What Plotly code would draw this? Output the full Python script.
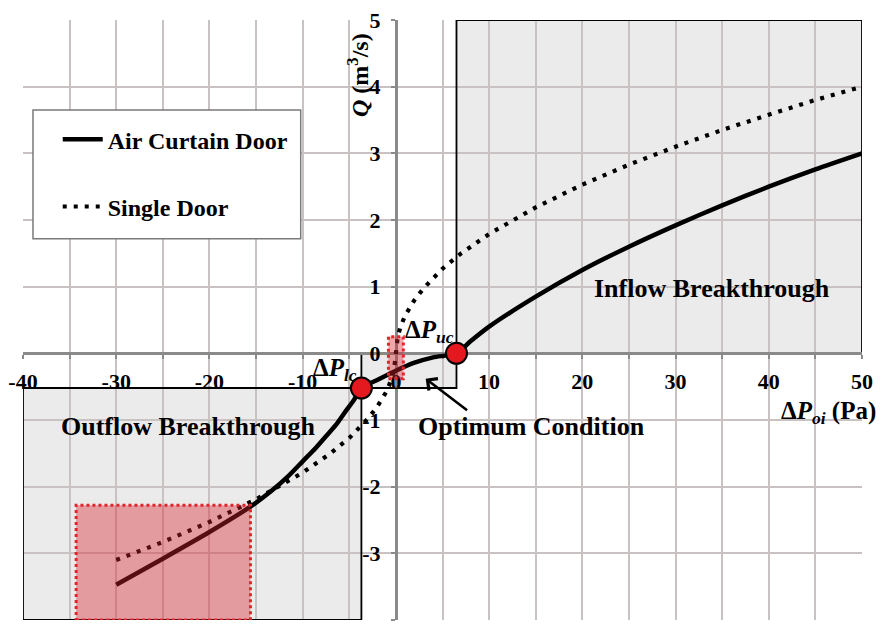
import plotly.graph_objects as go

# Flow rate Q (m3/s) versus pressure difference dP_oi (Pa)
dp_curtain = [-30, -25, -20, -15.6, -13.4, -11.6, -10, -8.6, -7.35, -6.3, -5.4, -4.5, -3.7,
              -2, 0, 2, 4, 6.5, 8, 10, 15, 20, 25, 30, 35, 40, 45, 50]
q_curtain = [-3.47, -3.08, -2.68, -2.30, -2.07, -1.85, -1.62, -1.42, -1.22, -1.05, -0.87, -0.70, -0.52,
             -0.40, -0.26, -0.14, -0.06, 0.0, 0.18, 0.40, 0.85, 1.25, 1.60, 1.92, 2.22, 2.50, 2.76, 3.00]

dp_single = [-30, -25, -20, -15, -10, -7, -5, -3, -2, -1, -0.5, -0.2, 0,
             0.2, 0.5, 1, 2, 3, 5, 7, 10, 15, 20, 25, 30, 35, 40, 45, 50]
q_single = [-3.10, -2.83, -2.53, -2.19, -1.79, -1.50, -1.27, -0.98, -0.80, -0.57, -0.40, -0.25, 0.0,
            0.25, 0.40, 0.57, 0.80, 0.98, 1.27, 1.50, 1.79, 2.19, 2.53, 2.83, 3.10, 3.35, 3.58, 3.80, 4.00]

# Lower and upper critical pressure differences
crit_dp = [-3.7, 6.5]
crit_q = [-0.52, 0.0]

# Axis extents and tick labels
x_range = [-40, 50]
y_range = [-4, 5]
x_ticks = [-40, -30, -20, -10, 0, 10, 20, 30, 40, 50]
x_ticklabels = ["-40", "-30", "-20", "-10", "0", "10", "20", "30", "40", "50"]
y_ticks = [-4, -3, -2, -1, 0, 1, 2, 3, 4, 5]
y_ticklabels = ["-4", "-3", "-2", "-1", "0", "1", "2", "3", "4", "5"]

# Highlighted sub-ranges
hl_low_x = [-34.3, -15.6]
hl_low_y = [-4.0, -2.28]
hl_mid_x = [-0.8, 0.8]
hl_mid_y = [-0.38, 0.25]

SERIF = "Liberation Serif, Times New Roman, serif"
GRID = "#c8c2c2"
AXIS = "#8a8a8a"
SHADE = "#ebebeb"

fig = go.Figure()

fig.add_trace(go.Scatter(
    x=dp_curtain, y=q_curtain, mode="lines", name="Air Curtain Door",
    line=dict(color="black", width=4.5, shape="spline", smoothing=0.7), legendgroup="a",
))
fig.add_trace(go.Scatter(
    x=dp_single, y=q_single, mode="lines", name="Single Door",
    line=dict(color="black", width=4.2, dash="4px,7px"), legendgroup="b",
))
fig.add_trace(go.Scatter(
    x=crit_dp, y=crit_q, mode="markers", showlegend=False,
    marker=dict(size=21, color="#e3191f", line=dict(color="black", width=2)),
))

shapes = []
# Shaded operating regions (fills under the grid, outlines over it)
regions = [
    (x_range[0], crit_dp[0], y_range[0], crit_q[0]),   # outflow breakthrough
    (crit_dp[0], crit_dp[1], crit_q[0], 0.0),          # optimum condition
    (crit_dp[1], x_range[1], 0.0, y_range[1]),         # inflow breakthrough
]
for x0, x1, y0, y1 in regions:
    shapes.append(dict(type="rect", xref="x", yref="y", x0=x0, x1=x1, y0=y0, y1=y1,
                       fillcolor=SHADE, line=dict(width=0), layer="below"))
    shapes.append(dict(type="rect", xref="x", yref="y", x0=x0, x1=x1, y0=y0, y1=y1,
                       fillcolor="rgba(0,0,0,0)", line=dict(color="black", width=1.8),
                       layer="between"))

# Highlight boxes drawn over the curves
for (x0, x1), (y0, y1) in [(hl_low_x, hl_low_y), (hl_mid_x, hl_mid_y)]:
    shapes.append(dict(type="rect", xref="x", yref="y", x0=x0, x1=x1, y0=y0, y1=y1,
                       fillcolor="rgba(215,35,45,0.40)",
                       line=dict(color="#e0262c", width=3, dash="dot"), layer="above"))

# Legend frame
shapes.append(dict(type="rect", xref="paper", yref="paper",
                   x0=0.0119, x1=0.331, y0=0.6353, y1=0.8498,
                   fillcolor="white", line=dict(color="#7a7a7a", width=1.5), layer="above"))

bold = dict(family=SERIF, color="black", weight="bold")

annotations = [
    dict(x=33.9, y=0.97, xref="x", yref="y", text="Inflow Breakthrough", showarrow=False,
         font=dict(size=26, **bold)),
    dict(x=-22.2, y=-1.10, xref="x", yref="y", text="Outflow Breakthrough", showarrow=False,
         font=dict(size=26, **bold)),
    dict(x=14.6, y=-1.10, xref="x", yref="y", text="Optimum Condition", showarrow=False,
         font=dict(size=26, **bold)),
    # pointer to the optimum box
    dict(x=3.2, y=-0.38, ax=7.8, ay=-0.87, xref="x", yref="y", axref="x", ayref="y",
         text="", showarrow=True, arrowhead=4, arrowsize=1.1, arrowwidth=2.6,
         arrowcolor="black"),
    dict(x=crit_dp[0] - 0.3, y=crit_q[0] + 0.28, xref="x", yref="y", xanchor="right",
         yanchor="middle", text="Δ<i>P</i><i><sub>lc</sub></i>",
         showarrow=False, font=dict(size=25, **bold)),
    dict(x=crit_dp[1], y=crit_q[1] + 0.33, xref="x", yref="y", xanchor="right",
         yanchor="middle", text="Δ<i>P</i><i><sub>uc</sub></i>",
         showarrow=False, font=dict(size=25, **bold)),
    # axis titles
    dict(x=1.019, y=0.3465, xref="paper", yref="paper", xanchor="right", yanchor="middle",
         text="Δ<i>P</i><i><sub>oi</sub></i> (Pa)", showarrow=False,
         font=dict(size=25, **bold)),
    dict(x=0.400, y=0.9076, xref="paper", yref="paper", xanchor="center", yanchor="middle",
         text="<i>Q</i> (m<sup>3</sup>/s)", textangle=-90, showarrow=False,
         font=dict(size=24, **bold)),
]

fig.update_layout(
    width=884, height=628,
    margin=dict(l=22, r=22, t=14, b=8),
    paper_bgcolor="white", plot_bgcolor="white",
    shapes=shapes, annotations=annotations,
    showlegend=True,
    legend=dict(x=0.0414, y=0.838, xanchor="left", yanchor="top",
                bgcolor="rgba(0,0,0,0)", borderwidth=0,
                font=dict(size=24, **bold), tracegroupgap=33, itemwidth=40),
    xaxis=dict(
        range=x_range, domain=[0, 1], anchor="free",
        position=(0 - y_range[0]) / (y_range[1] - y_range[0]),
        tickmode="array", tickvals=x_ticks, ticktext=x_ticklabels,
        showgrid=True, gridcolor=GRID, gridwidth=1.5,
        minor=dict(dtick=5, tick0=0, showgrid=True, gridcolor=GRID, gridwidth=1.5,
                   ticks="outside", ticklen=4, tickcolor=AXIS, tickwidth=2),
        showline=True, linecolor=AXIS, linewidth=3, zeroline=False,
        ticks="outside", ticklen=4, tickcolor=AXIS, tickwidth=2,
        tickfont=dict(size=22, **bold), ticklabelstandoff=3, layer="below traces",
    ),
    yaxis=dict(
        range=y_range, domain=[0, 1], anchor="free",
        position=(0 - x_range[0]) / (x_range[1] - x_range[0]),
        tickmode="array", tickvals=y_ticks, ticktext=y_ticklabels,
        showgrid=True, gridcolor=GRID, gridwidth=1.5,
        showline=True, linecolor=AXIS, linewidth=3, zeroline=False,
        ticks="outside", ticklen=4, tickcolor=AXIS, tickwidth=2, side="left",
        tickfont=dict(size=22, **bold), ticklabelstandoff=6, layer="below traces",
    ),
)

fig.write_html("out.html")
